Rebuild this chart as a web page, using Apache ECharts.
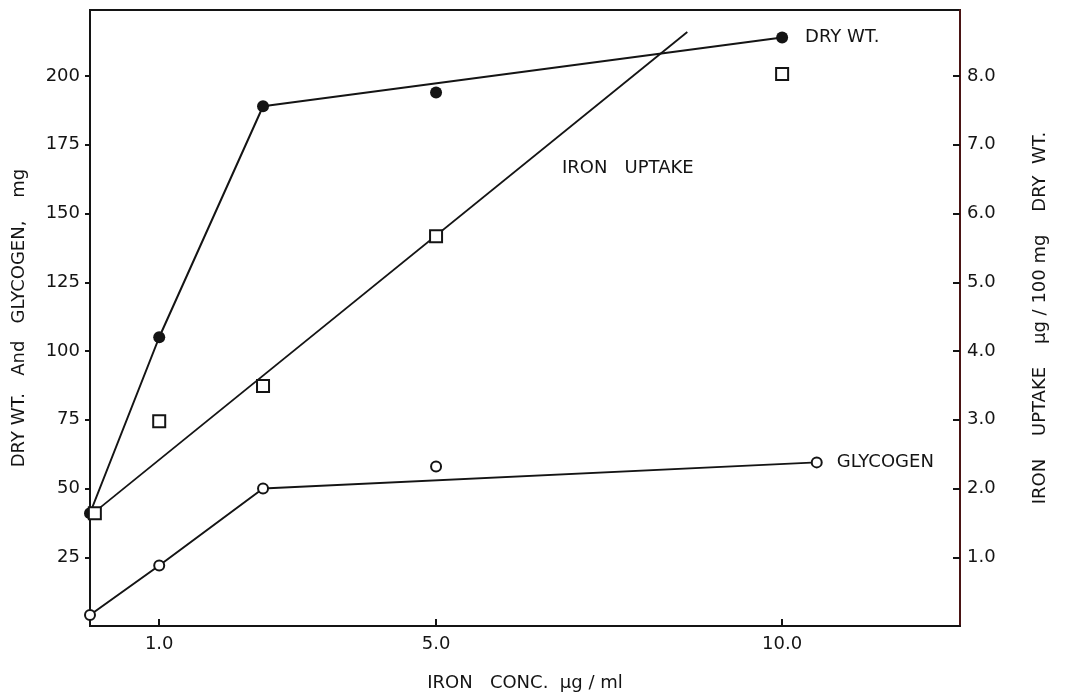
<!DOCTYPE html>
<html>
<head>
<meta charset="utf-8">
<script src="https://cdn.jsdelivr.net/npm/echarts@6/dist/echarts.min.js"></script>
<style>
  html, body { margin: 0; padding: 0; background: #fff; }
  #chart { width: 1067px; height: 697px; }
</style>
</head>
<body>
<div id="chart"></div>
<script>
// Iron concentration in the medium (µg/ml)
const dryConc = [0, 1.0, 2.5, 5.0, 10.0];
// Dry weight (mg)
const dryWt = [41, 105, 189, 194, 214];
// Indices of dry-weight points joined by the drawn curve
const dryCurveIdx = [0, 1, 2, 4];

const glyConc = [0, 1.0, 2.5, 5.0, 10.5];
// Glycogen (mg)
const glycogen = [4, 22, 50, 58, 59.5];
const glyCurveIdx = [0, 1, 2, 4];

// Iron uptake (µg / 100 mg dry wt.)
const ironConc = [0.07, 1.0, 2.5, 5.0, 10.0];
const ironUptake = [1.64, 2.98, 3.49, 5.67, 8.03];
// Straight line fitted through the iron uptake points (end points)
const ironFitConc = [0.07, 8.63];
const ironFitUptake = [1.66, 8.64];

// Axis ticks
const xTicks = [1, 5, 10];
const leftTicks = [25, 50, 75, 100, 125, 150, 175, 200];
const rightTicks = [1, 2, 3, 4, 5, 6, 7, 8];

const FONT = 'DejaVu Sans';
const INK = '#141414';

const pairs = (xs, ys, idx) => (idx || xs.map((_, i) => i)).map(i => [xs[i], ys[i]]);

const chart = echarts.init(document.getElementById('chart'), null, { renderer: 'canvas' });

const textStyle = { fontFamily: FONT, fontSize: 18, color: INK, opacity: 1 };
const nameStyle = { fontFamily: FONT, fontSize: 18, color: INK };

chart.setOption({
  animation: false,
  backgroundColor: '#fff',
  grid: {
    left: 90, right: 107, top: 10, bottom: 71,
    show: true, borderColor: INK, borderWidth: 2
  },
  xAxis: {
    type: 'value', min: 0, max: 12.57,
    name: 'IRON   CONC.  µg / ml',
    nameLocation: 'middle', nameGap: 48,
    nameTextStyle: nameStyle,
    axisLine: { show: true, lineStyle: { color: INK, width: 2 } },
    axisTick: { show: true, inside: true, length: 7, customValues: xTicks, lineStyle: { color: INK, width: 2 } },
    axisLabel: { customValues: xTicks, formatter: v => v.toFixed(1), margin: 9, ...textStyle },
    splitLine: { show: false }
  },
  yAxis: [
    {
      type: 'value', min: 0, max: 224, position: 'left',
      name: 'DRY WT.   And   GLYCOGEN,    mg',
      nameLocation: 'middle', nameRotate: 90, nameGap: 62,
      nameTextStyle: nameStyle,
      axisLine: { show: true, lineStyle: { color: INK, width: 2 } },
      axisTick: { show: true, inside: false, length: 5, customValues: leftTicks, lineStyle: { color: INK, width: 2 } },
      axisLabel: { customValues: leftTicks, margin: 10, ...textStyle },
      splitLine: { show: false }
    },
    {
      type: 'value', min: 0, max: 8.96, position: 'right',
      name: 'IRON    UPTAKE    µg / 100 mg    DRY  WT.',
      nameLocation: 'middle', nameRotate: 90, nameGap: 71,
      nameTextStyle: nameStyle,
      axisLine: { show: true, lineStyle: { color: '#4a1414', width: 2 } },
      axisTick: { show: true, inside: true, length: 7, customValues: rightTicks, lineStyle: { color: INK, width: 2 } },
      axisLabel: { customValues: rightTicks, formatter: v => v.toFixed(1), margin: 7, ...textStyle },
      splitLine: { show: false }
    }
  ],
  series: [
    {
      name: 'DRY WT. curve', type: 'line', yAxisIndex: 0,
      data: pairs(dryConc, dryWt, dryCurveIdx),
      symbol: 'none', lineStyle: { color: INK, width: 2 }, z: 2
    },
    {
      name: 'GLYCOGEN curve', type: 'line', yAxisIndex: 0,
      data: pairs(glyConc, glycogen, glyCurveIdx),
      symbol: 'none', lineStyle: { color: INK, width: 2 }, z: 2
    },
    {
      name: 'IRON UPTAKE fit', type: 'line', yAxisIndex: 1,
      data: pairs(ironFitConc, ironFitUptake),
      symbol: 'none', lineStyle: { color: INK, width: 1.8 }, z: 2,
      markPoint: {
        symbol: 'circle', symbolSize: 0,
        label: { show: true, position: 'inside', formatter: 'IRON   UPTAKE', ...textStyle },
        data: [{ coord: [7.77, 6.66] }]
      }
    },
    {
      name: 'DRY WT.', type: 'scatter', yAxisIndex: 0,
      data: pairs(dryConc, dryWt).map((p, i, a) => i === a.length - 1
        ? { value: p, label: { show: true, position: 'right', distance: 17, formatter: 'DRY WT.', ...textStyle } }
        : p),
      symbol: 'circle', symbolSize: 12,
      itemStyle: { color: INK, opacity: 1 }, z: 3
    },
    {
      name: 'GLYCOGEN', type: 'scatter', yAxisIndex: 0,
      data: pairs(glyConc, glycogen).map((p, i, a) => i === a.length - 1
        ? { value: p, label: { show: true, position: 'right', distance: 14, formatter: 'GLYCOGEN', ...textStyle } }
        : p),
      symbol: 'emptyCircle', symbolSize: 10,
      itemStyle: { color: INK, borderColor: INK, borderWidth: 2, opacity: 1 }, z: 4
    },
    {
      name: 'IRON UPTAKE', type: 'scatter', yAxisIndex: 1,
      data: pairs(ironConc, ironUptake),
      symbol: 'emptyRect', symbolSize: 12,
      itemStyle: { color: INK, borderColor: INK, borderWidth: 2.2, opacity: 1 }, z: 4
    }
  ]
});
</script>
</body>
</html>
